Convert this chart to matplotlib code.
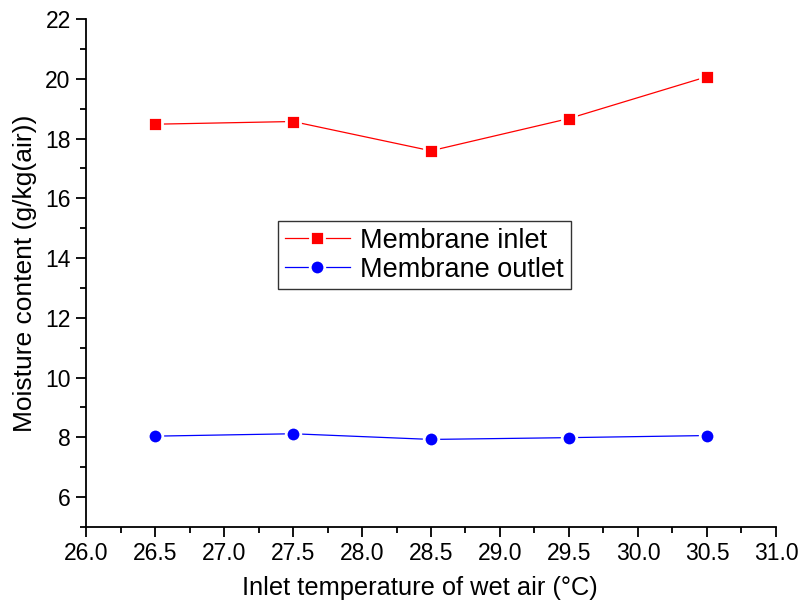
import numpy as np
import matplotlib.pyplot as plt
from matplotlib.ticker import MultipleLocator

plt.rcParams['font.family'] = ['Liberation Sans', 'DejaVu Sans']

temp = [26.5, 27.5, 28.5, 29.5, 30.5]
inlet = [18.48, 18.57, 17.59, 18.67, 20.07]
outlet = [8.04, 8.12, 7.93, 7.99, 8.06]

fig = plt.figure(figsize=(7.98, 6.06), dpi=100)
ax = fig.add_axes([0.1078, 0.1304, 0.8646, 0.8382])

ax.plot(temp, inlet, color='red', lw=0.9, marker='s', ms=10.5, mfc='red',
        mec='white', mew=2, label='Membrane inlet')
ax.plot(temp, outlet, color='blue', lw=0.9, marker='o', ms=10.5, mfc='blue',
        mec='white', mew=2, label='Membrane outlet')

ax.set_xlim(26.0, 31.0)
ax.set_ylim(5, 22)
ax.xaxis.set_major_locator(MultipleLocator(0.5))
ax.xaxis.set_minor_locator(MultipleLocator(0.25))
ax.yaxis.set_major_locator(MultipleLocator(2))
ax.yaxis.set_minor_locator(MultipleLocator(1))
ax.set_yticks(np.arange(6, 23, 2))
ax.xaxis.set_major_formatter(plt.FormatStrFormatter('%.1f'))

for s in ['top', 'right']:
    ax.spines[s].set_visible(False)
for s in ['left', 'bottom']:
    ax.spines[s].set_linewidth(1.3)

ax.tick_params(which='major', direction='out', length=7, width=1.3, labelsize=16.5, pad=4)
ax.tick_params(which='minor', direction='out', length=4.5, width=1.3)

ax.set_xlabel('Inlet temperature of wet air (°C)', fontsize=18.3)
ax.xaxis.set_label_coords(0.484, -0.097)
ax.set_ylabel('Moisture content (g/kg(air))', fontsize=19, labelpad=6)

leg = ax.legend(loc='upper left', bbox_to_anchor=(0.278, 0.602), fontsize=19.5,
                fancybox=False, framealpha=1, edgecolor='#333333',
                handlelength=2.4, handletextpad=0.4, borderpad=0.25,
                labelspacing=0.1, borderaxespad=0)
leg.get_frame().set_linewidth(1.0)

plt.savefig('out.png', dpi=100)
